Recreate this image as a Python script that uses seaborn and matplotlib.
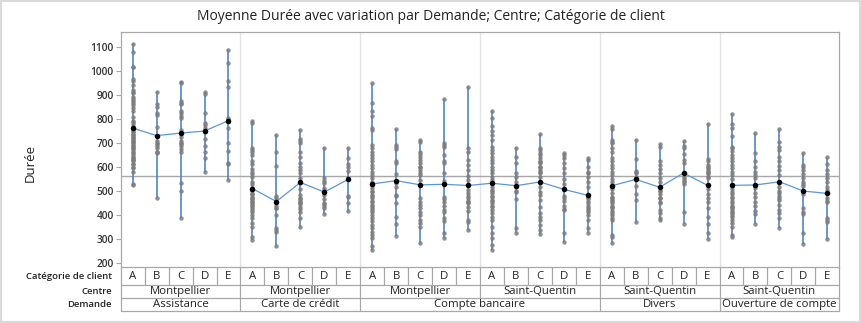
import numpy as np
import pandas as pd
import matplotlib
matplotlib.use("Agg")
import matplotlib.pyplot as plt
import matplotlib.transforms as mtransforms
from matplotlib.patches import Rectangle
import seaborn as sns

# ---------------- data ----------------
categories = ["A", "B", "C", "D", "E"]
group_demande = ["Assistance", "Carte de crédit", "Compte bancaire", "Compte bancaire", "Divers", "Ouverture de compte"]
group_centre = ["Montpellier", "Montpellier", "Montpellier", "Saint-Quentin", "Saint-Quentin", "Saint-Quentin"]

assistance_mtp = [
    [1114, 1082, 1019, 1017, 967, 961, 943, 922, 915, 908, 894, 883, 876, 867, 860, 849, 835, 811, 793, 787, 769, 760,
     746, 735, 724, 714, 704, 693, 682, 672, 658, 644, 635, 624, 612, 596, 582, 529, 524, 780, 750, 740, 730, 720, 710,
     700, 690, 680, 665, 650, 640, 630, 615, 600],
    [915, 864, 850, 828, 818, 769, 730, 710, 697, 679, 662, 473, 700, 690, 665, 660],
    [957, 953, 878, 869, 862, 835, 828, 815, 804, 755, 744, 728, 710, 699, 676, 662, 533, 503, 390, 700, 690],
    [912, 907, 825, 786, 776, 765, 749, 717, 690, 662, 640, 582],
    [1089, 1033, 961, 933, 807, 800, 765, 700, 669, 619, 612, 547],
]
carte_mtp = [
    [793, 783, 682, 672, 662, 649, 624, 612, 593, 582, 571, 561, 540, 529, 512, 487, 478, 468, 457, 443, 429, 415, 387,
     369, 353, 311, 297, 500, 490, 470, 460, 450, 440, 420, 400],
    [735, 662, 605, 482, 471, 457, 432, 401, 339, 329, 272, 440, 430, 345],
    [755, 718, 710, 700, 662, 644, 619, 599, 589, 575, 554, 536, 510, 485, 468, 457, 446, 436, 426, 415, 387, 349, 470,
     460, 450],
    [682, 554, 544, 533, 515, 505, 485, 467, 446, 429, 404, 450, 440],
    [682, 640, 612, 599, 585, 550, 482, 474, 453, 419],
]
compte_mtp = [
    [953, 869, 836, 814, 765, 755, 693, 679, 665, 651, 637, 624, 610, 596, 582, 568, 554, 540, 526, 512, 498, 485, 471,
     457, 443, 429, 415, 401, 387, 374, 360, 346, 332, 318, 304, 272, 255, 500, 480, 460, 440, 420],
    [760, 693, 686, 675, 624, 617, 571, 533, 519, 485, 450, 394, 364, 314, 480],
    [714, 707, 665, 655, 644, 630, 617, 599, 589, 575, 568, 547, 471, 457, 443, 429, 415, 401, 380, 367, 353, 286, 600],
    [885, 700, 693, 683, 649, 626, 617, 578, 543, 478, 468, 457, 440, 422, 415, 387, 376, 325, 307],
    [936, 682, 662, 630, 610, 589, 565, 547, 505, 491, 471, 457, 436, 419, 380, 371, 339, 480, 460, 450],
]
compte_sq = [
    [835, 804, 774, 753, 735, 714, 686, 672, 658, 644, 630, 617, 603, 589, 575, 561, 547, 519, 505, 491, 478, 464, 450,
     436, 422, 408, 394, 380, 353, 325, 304, 274, 256, 500, 480, 460, 440],
    [682, 644, 617, 575, 561, 540, 498, 466, 346, 325, 500],
    [737, 679, 672, 658, 649, 637, 626, 617, 603, 589, 575, 519, 498, 485, 464, 436, 408, 394, 380, 360, 339, 322, 600,
     580, 560, 620],
    [658, 651, 640, 617, 596, 575, 551, 529, 471, 426, 325, 287, 480, 460, 440, 420],
    [640, 630, 603, 582, 575, 561, 540, 519, 471, 450, 432, 415, 346, 328, 480, 470, 460, 440, 420, 400, 380],
]
divers_sq = [
    [774, 760, 714, 707, 700, 682, 662, 640, 626, 610, 596, 582, 568, 551, 540, 510, 492, 478, 464, 450, 436, 418, 401,
     390, 380, 318, 311, 283, 470, 460, 440, 430, 410],
    [714, 633, 586, 575, 523, 487, 464, 373, 580, 560],
    [696, 686, 624, 610, 593, 575, 557, 540, 501, 487, 473, 457, 422, 408, 390, 380, 500, 470, 450],
    [710, 690, 682, 654, 630, 619, 561, 551, 543, 412, 364, 540, 530],
    [780, 635, 624, 610, 596, 582, 571, 554, 510, 487, 471, 457, 429, 394, 362, 325, 300, 600, 590, 580, 560],
]
ouverture_sq = [
    [821, 779, 762, 730, 686, 679, 668, 649, 637, 624, 610, 596, 582, 568, 551, 498, 478, 450, 436, 422, 408, 394, 380,
     367, 350, 318, 311, 520, 510, 490, 470, 460, 440, 430, 415, 400],
    [742, 658, 624, 582, 568, 554, 512, 492, 478, 457, 440, 418, 404, 362, 600],
    [758, 707, 686, 672, 644, 626, 607, 589, 568, 519, 492, 473, 464, 443, 422, 408, 387, 346, 500, 480],
    [658, 610, 599, 589, 571, 554, 540, 487, 429, 415, 404, 328, 279, 520, 530],
    [644, 612, 589, 571, 554, 540, 519, 505, 457, 390, 380, 373, 300, 470, 460],
]
groups = [assistance_mtp, carte_mtp, compte_mtp, compte_sq, divers_sq, ouverture_sq]

yticks = [200, 300, 400, 500, 600, 700, 800, 900, 1000, 1100]
title = "Moyenne Durée avec variation par Demande; Centre; Catégorie de client"

# ---------------- build table ----------------
rows = []
order = []
for g, cols in enumerate(groups):
    for c, vals in zip(categories, cols):
        key = f"{g}-{c}"
        order.append(key)
        for v in vals:
            rows.append({"key": key, "Demande": group_demande[g], "Centre": group_centre[g],
                         "Catégorie": c, "Durée": v})
df = pd.DataFrame(rows)
pos = {k: i for i, k in enumerate(order)}
df["pos"] = df["key"].map(pos)
stats = df.groupby("key", sort=False)["Durée"].agg(["min", "max", "mean"]).reindex(order)
stats["pos"] = np.arange(len(order))
stats["Demande"] = [group_demande[int(k.split("-")[0])] for k in order]
grand_mean = df["Durée"].mean()

# ---------------- plot ----------------
sns.set_theme(style="white")
plt.rcParams["font.family"] = ["Open Sans", "DejaVu Sans"]

W, H = 862, 323
fig = plt.figure(figsize=(W / 100, H / 100), dpi=100)
left_px, right_px, top_px, bot_px = 120.7, 839.3, 31.7, 267.3
ax = fig.add_axes([left_px / W, 1 - bot_px / H, (right_px - left_px) / W, (bot_px - top_px) / H])

sep_color = "#e4e4e4"
line_grey = "#a8a8a8"
blue = "#4f86c6"

for b in [4.5, 9.5, 14.5, 19.5, 24.5]:
    ax.axvline(b, color=sep_color, lw=1.0, zorder=0)
ax.axhline(grand_mean, color=line_grey, lw=1.0, zorder=1)

ax.vlines(stats["pos"], stats["min"], stats["max"], color=blue, lw=1.2, zorder=2)

sns.stripplot(data=df, x="key", y="Durée", order=order, jitter=False, color="#7d7d7d",
              size=3.2, linewidth=0, alpha=0.85, ax=ax, zorder=3)

for dem, sub in stats.groupby("Demande", sort=False):
    ax.plot(sub["pos"], sub["mean"], color="#5b97d6", lw=0.9, zorder=4)
sns.scatterplot(x=stats["pos"].values, y=stats["mean"].values, color="black", s=16,
                linewidth=0, ax=ax, zorder=5)

ax.set_xlim(-0.5, len(order) - 0.5)
ax.set_ylim(183, 1165)
ax.set_yticks(yticks)
ax.set_yticklabels([str(t) for t in yticks], fontweight="semibold", color="#333333")
ax.set_xticks([])
ax.set_xlabel("")
ax.set_ylabel("")
ax.tick_params(axis="y", length=3.5, width=0.8, color=line_grey, labelsize=7.3, pad=1.5, left=True)
for s in ax.spines.values():
    s.set_color(line_grey)
    s.set_linewidth(0.9)

# categorical table below the axis
trans = mtransforms.blended_transform_factory(ax.transData, ax.transAxes)
ah = bot_px - top_px
def ay(px):
    return (bot_px - px) / ah

r1, r2, r3 = ay(285), ay(298), ay(311)
n = len(order)
for yy in [r1, r2, r3]:
    ax.plot([-0.5, n - 0.5], [yy, yy], transform=trans, clip_on=False, color=line_grey, lw=0.9)
for b in np.arange(-0.5, n, 1.0):
    ax.plot([b, b], [0, r1], transform=trans, clip_on=False, color=line_grey, lw=0.9)
for b in [-0.5, 4.5, 9.5, 14.5, 19.5, 24.5, n - 0.5]:
    ax.plot([b, b], [r1, r2], transform=trans, clip_on=False, color=line_grey, lw=0.9)
for b in [-0.5, 4.5, 9.5, 19.5, 24.5, n - 0.5]:
    ax.plot([b, b], [r2, r3], transform=trans, clip_on=False, color=line_grey, lw=0.9)

txt_kw = dict(transform=trans, ha="center", va="center", fontsize=8.2, color="#222222", clip_on=False)
for i, k in enumerate(order):
    ax.text(i, (0 + r1) / 2, k.split("-")[1], **txt_kw)
for g in range(len(groups)):
    ax.text(g * 5 + 2, (r1 + r2) / 2, group_centre[g], **txt_kw)
dem_spans = [("Assistance", 0, 4), ("Carte de crédit", 5, 9), ("Compte bancaire", 10, 19),
             ("Divers", 20, 24), ("Ouverture de compte", 25, 29)]
for name, a, b in dem_spans:
    ax.text((a + b) / 2, (r2 + r3) / 2, name, **txt_kw)

tl = mtransforms.blended_transform_factory(fig.transFigure, ax.transAxes)
for lab, yy in [("Catégorie de client", r1 / 2), ("Centre", (r1 + r2) / 2), ("Demande", (r2 + r3) / 2)]:
    ax.text(112 / W, yy, lab, transform=tl, ha="right", va="center", fontsize=6.8,
            fontweight="semibold", color="#222222", clip_on=False)

fig.text(0.5, 1 - 17 / H, title, ha="center", va="center", fontsize=10, color="#222222")
fig.text(30 / W, 1 - 163 / H, "Durée", rotation=90, ha="center", va="center", fontsize=9.5, color="#222222")

fig.patches.append(Rectangle((0.001, 0.002), 0.997, 0.995, transform=fig.transFigure, fill=False,
                             edgecolor="#dadada", lw=1.5))

fig.savefig("out.png", dpi=100, facecolor="white")
